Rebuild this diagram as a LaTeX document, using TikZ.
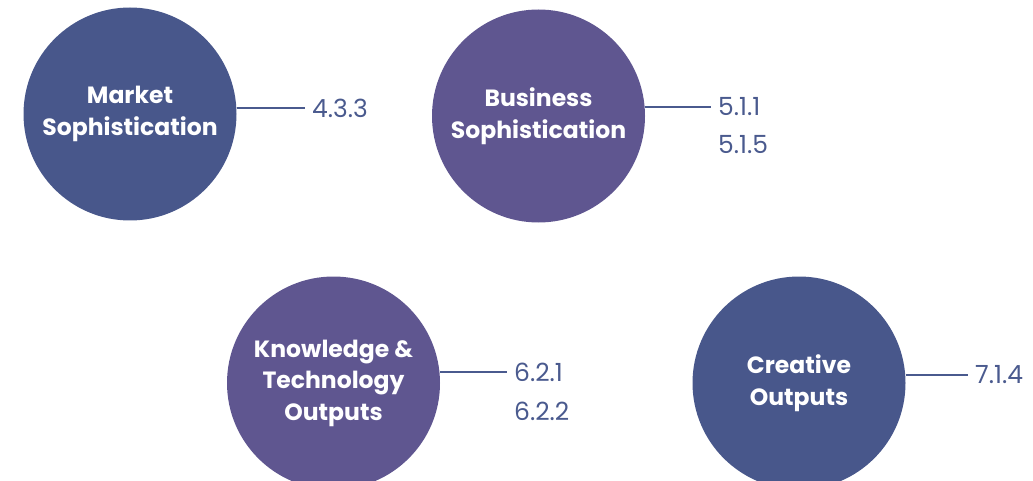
\documentclass[tikz,border=0pt]{standalone}
\usepackage{fontspec}
\setmainfont{Poppins}
\newfontfamily\boldfont{Poppins}[UprightFont=* Bold]
\definecolor{cblue}{HTML}{48578B}
\definecolor{cpurple}{HTML}{5F5690}
\definecolor{ntext}{HTML}{4A5A8E}
\begin{document}
\begin{tikzpicture}[x=1pt,y=-1pt,
  bubble/.style={circle,minimum size=213pt,inner sep=0pt,text=white,align=center,
    font=\boldfont\fontsize{23.5}{31.5}\selectfont},
  numlab/.style={anchor=west,inner ysep=0pt,inner xsep=7pt,text=ntext,
    font=\fontsize{25}{28}\selectfont},
  link/.style={draw=ntext,line width=2pt}]
\useasboundingbox (0,0) rectangle (1033,481);
\node[bubble,fill=cblue] (c1) at (130,114) {Market\\Sophistication};
\node[bubble,fill=cpurple] (c2) at (538.5,116) {Business\\Sophistication};
\node[bubble,fill=cpurple] (c3) at (333.5,383) {Knowledge \&\\Technology\\Outputs};
\node[bubble,fill=cblue] (c4) at (799,383) {Creative\\Outputs};
\node[numlab] (l1) at (305,108) {4.3.3};
\node[numlab] (l2a) at (711,107) {5.1.1};
\node[numlab] (l2b) at (711,145) {5.1.5};
\node[numlab] (l3a) at (507,372) {6.2.1};
\node[numlab] (l3b) at (507,411) {6.2.2};
\node[numlab] (l4) at (968,375) {7.1.4};
\draw[link] (c1.east |- l1.west) -- (l1.west);
\draw[link] (c2.east |- l2a.west) -- (l2a.west);
\draw[link] (c3.east |- l3a.west) -- (l3a.west);
\draw[link] (c4.east |- l4.west) -- (l4.west);
\end{tikzpicture}
\end{document}
